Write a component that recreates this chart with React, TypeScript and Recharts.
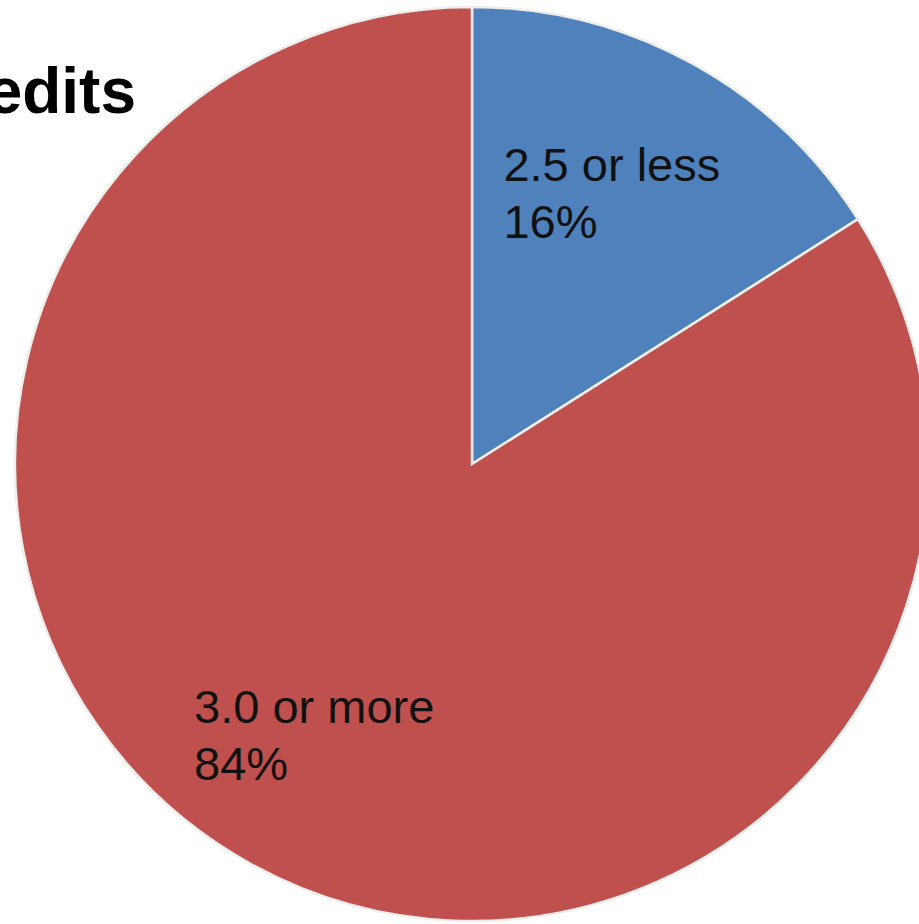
import React from "react";
import { PieChart, Pie, Cell } from "recharts";

const categories = ["2.5 or less", "3.0 or more"];
const shares = [16, 84];
const colors = ["#4F81BD", "#C0504D"];
const titleText = "Credits";

const data = categories.map((name, i) => ({ name, value: shares[i] }));

const FONT = "'Liberation Sans', Arial, Helvetica, sans-serif";
const LABEL_SIZE = 47;

function measure(text: string, size: number): number {
  try {
    const c = document.createElement("canvas").getContext("2d");
    if (c) {
      c.font = `${size}px ${FONT}`;
      return c.measureText(text).width;
    }
  } catch (e) {}
  return text.length * size * 0.5;
}

const RAD = Math.PI / 180;

const renderLabel = (props: any) => {
  const { cx, cy, midAngle, outerRadius, name, percent } = props;
  const r = outerRadius * 0.676;
  const px = cx + r * Math.cos(-midAngle * RAD);
  const py = cy + r * Math.sin(-midAngle * RAD);
  const w = measure(name, LABEL_SIZE);
  const x = px - w / 2 - 9;
  return (
    <text
      x={x}
      y={py - 12}
      fill="#111"
      fontFamily={FONT}
      fontSize={LABEL_SIZE}
      textAnchor="start"
    >
      <tspan x={x} dy={0}>{name}</tspan>
      <tspan x={x} dy={57}>{`${Math.round(percent * 100)}%`}</tspan>
    </text>
  );
};

export default function App() {
  return (
    <div style={{ position: "absolute", left: 0, top: 0, width: 919, height: 924, background: "#fff" }}>
      <PieChart width={919} height={924} margin={{ top: 0, right: 0, bottom: 0, left: 0 }}>
        <Pie
          data={data}
          dataKey="value"
          nameKey="name"
          cx={472}
          cy={464}
          outerRadius={457}
          startAngle={90}
          endAngle={-270}
          stroke="#eeeeee"
          strokeWidth={2.5}
          label={renderLabel}
          labelLine={false}
          isAnimationActive={false}
        >
          {data.map((d, i) => (
            <Cell key={d.name} fill={colors[i]} />
          ))}
        </Pie>
      </PieChart>
      <svg width={919} height={924} style={{ position: "absolute", left: 0, top: 0, pointerEvents: "none" }}>
        <text
          x={136}
          y={113}
          textAnchor="end"
          fontFamily={FONT}
          fontWeight="bold"
          fontSize={64}
          fill="#000"
        >
          {titleText}
        </text>
      </svg>
    </div>
  );
}
